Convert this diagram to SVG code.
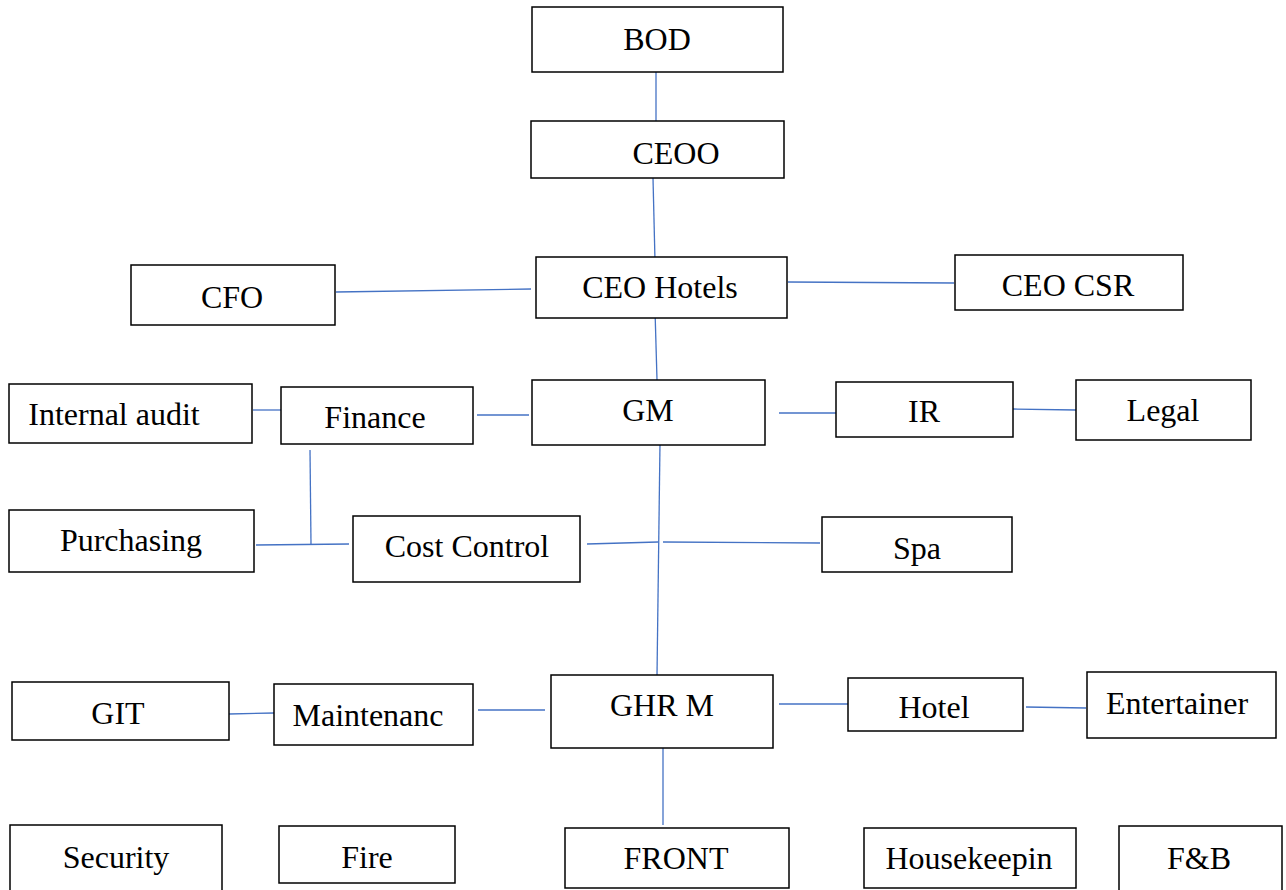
<svg xmlns="http://www.w3.org/2000/svg" width="1286" height="890" viewBox="0 0 1286 890">
<style>
.box{fill:#fff;stroke:#000;stroke-width:1.5}
.t{font-family:"Liberation Serif","Times New Roman",serif;font-size:32px;fill:#000;text-anchor:middle}
.c{stroke:#4472C4;stroke-width:1.3;fill:none}
</style>
<rect width="1286" height="890" fill="#fff"/>
<g id="connectors">
<line class="c" x1="656" y1="72" x2="656" y2="121"/>
<line class="c" x1="653" y1="178" x2="655" y2="261"/>
<line class="c" x1="655" y1="310" x2="657" y2="380"/>
<line class="c" x1="336" y1="292" x2="531" y2="289"/>
<line class="c" x1="788" y1="282" x2="954" y2="283"/>
<line class="c" x1="253" y1="410" x2="284" y2="410"/>
<line class="c" x1="477" y1="415" x2="529" y2="415"/>
<line class="c" x1="779" y1="413" x2="836" y2="413"/>
<line class="c" x1="1013" y1="409" x2="1076" y2="410"/>
<line class="c" x1="310" y1="450" x2="311" y2="544"/>
<line class="c" x1="256" y1="545" x2="349" y2="544"/>
<line class="c" x1="587" y1="544" x2="658" y2="542"/>
<line class="c" x1="663" y1="542" x2="820" y2="543"/>
<line class="c" x1="660" y1="443" x2="657" y2="676"/>
<line class="c" x1="229" y1="714" x2="274" y2="713"/>
<line class="c" x1="478" y1="710" x2="545" y2="710"/>
<line class="c" x1="779" y1="704" x2="848" y2="704"/>
<line class="c" x1="1026" y1="707" x2="1086" y2="708"/>
<line class="c" x1="663" y1="748" x2="663" y2="825"/>
</g>
<g id="bod"><rect class="box" x="532" y="7" width="251" height="65"/><text class="t" x="657" y="50">BOD</text></g>
<g id="ceoo"><rect class="box" x="531" y="121" width="253" height="57"/><text class="t" x="676" y="164">CEOO</text></g>
<g id="ceo-hotels"><rect class="box" x="536" y="257" width="251" height="61"/><text class="t" x="660" y="298">CEO Hotels</text></g>
<g id="cfo"><rect class="box" x="131" y="265" width="204" height="60"/><text class="t" x="232" y="308">CFO</text></g>
<g id="ceo-csr"><rect class="box" x="955" y="255" width="228" height="55"/><text class="t" x="1068" y="296">CEO CSR</text></g>
<g id="internal-audit"><rect class="box" x="9" y="384" width="243" height="59"/><text class="t" x="114" y="425">Internal audit</text></g>
<g id="finance"><rect class="box" x="281" y="387" width="192" height="57"/><text class="t" x="375" y="428">Finance</text></g>
<g id="gm"><rect class="box" x="532" y="380" width="233" height="65"/><text class="t" x="648" y="421">GM</text></g>
<g id="ir"><rect class="box" x="836" y="382" width="177" height="55"/><text class="t" x="924" y="422">IR</text></g>
<g id="legal"><rect class="box" x="1076" y="380" width="175" height="60"/><text class="t" x="1163" y="421">Legal</text></g>
<g id="purchasing"><rect class="box" x="9" y="510" width="245" height="62"/><text class="t" x="131" y="551">Purchasing</text></g>
<g id="cost-control"><rect class="box" x="353" y="516" width="227" height="66"/><text class="t" x="467" y="557">Cost Control</text></g>
<g id="spa"><rect class="box" x="822" y="517" width="190" height="55"/><text class="t" x="917" y="559">Spa</text></g>
<g id="git"><rect class="box" x="12" y="682" width="217" height="58"/><text class="t" x="118" y="724">GIT</text></g>
<g id="maintenanc"><rect class="box" x="274" y="684" width="199" height="61"/><text class="t" x="368" y="726">Maintenanc</text></g>
<g id="ghr-m"><rect class="box" x="551" y="675" width="222" height="73"/><text class="t" x="662" y="716">GHR M</text></g>
<g id="hotel"><rect class="box" x="848" y="678" width="175" height="53"/><text class="t" x="934" y="718">Hotel</text></g>
<g id="entertainer"><rect class="box" x="1087" y="672" width="189" height="66"/><text class="t" x="1177" y="714">Entertainer</text></g>
<g id="security"><rect class="box" x="10" y="825" width="212" height="70"/><text class="t" x="116" y="868">Security</text></g>
<g id="fire"><rect class="box" x="279" y="826" width="176" height="57"/><text class="t" x="367" y="868">Fire</text></g>
<g id="front"><rect class="box" x="565" y="828" width="224" height="60"/><text class="t" x="676" y="869">FRONT</text></g>
<g id="housekeepin"><rect class="box" x="864" y="828" width="212" height="60"/><text class="t" x="969" y="869">Housekeepin</text></g>
<g id="fb"><rect class="box" x="1119" y="826" width="163" height="70"/><text class="t" x="1199" y="869">F&amp;B</text></g>
</svg>
